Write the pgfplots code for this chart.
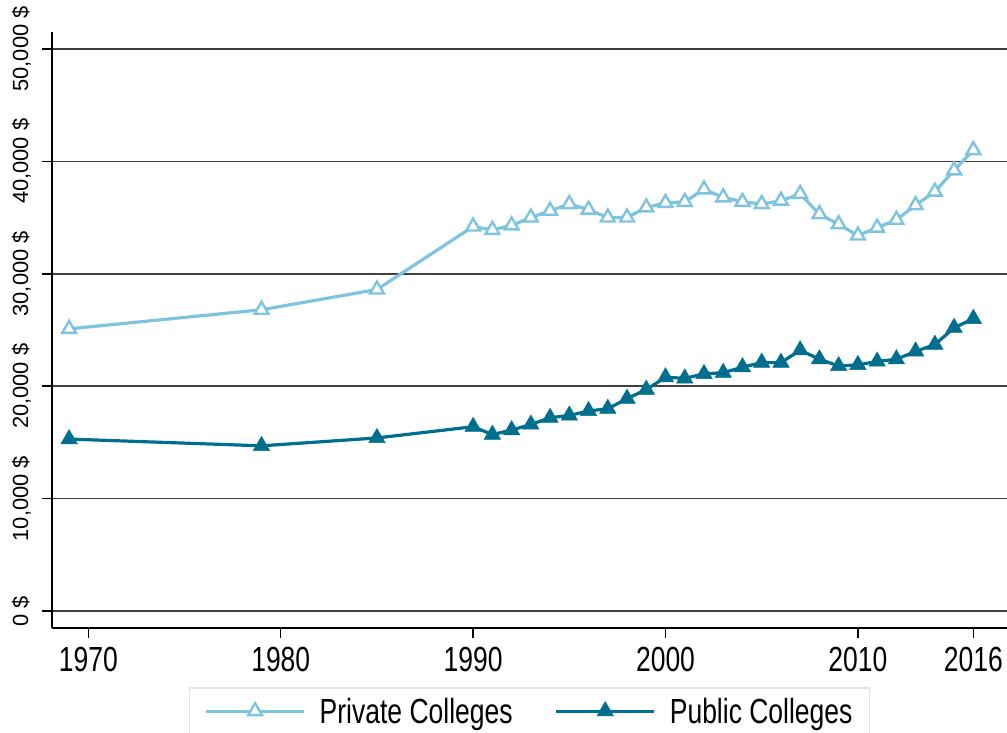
\documentclass[border=0pt]{standalone}
\usepackage{pgfplots}
\pgfplotsset{compat=1.18}
\usepackage{fontspec}
\setmainfont{Liberation Sans}
\newfontfamily\condfont[FakeStretch=0.76]{Liberation Sans}
\definecolor{privc}{RGB}{126,196,223}
\definecolor{pubc}{RGB}{0,111,143}
\definecolor{legbd}{RGB}{220,230,234}
\begin{document}
\begin{tikzpicture}
\begin{axis}[
  name=ax,
  scale only axis, width=955bp, height=596bp,
  xmin=1968.11, xmax=2017.75, ymin=-1500, ymax=51500,
  axis lines*=left,
  axis line style={line width=2bp, black},
  scaled y ticks=false, scaled x ticks=false,
  xtick={1970,1980,1990,2000,2010,2016},
  xticklabels={1970,1980,1990,2000,2010,2016},
  ytick={0,10000,20000,30000,40000,50000},
  yticklabels={{0 \$},{10,000 \$},{20,000 \$},{30,000 \$},{40,000 \$},{50,000 \$}},
  tick align=outside, major tick length=10bp,
  tick style={line width=1.5bp, black},
  ymajorgrids, major grid style={line width=1.5bp, black!75},
  xticklabel style={font=\condfont\fontsize{35}{40}\selectfont, anchor=north, inner sep=0pt, yshift=-9bp},
  yticklabel style={font=\fontsize{22}{26}\selectfont, rotate=90, anchor=base, yshift=14bp},
  legend columns=2,
  legend style={at={(0.5,-0.099)}, anchor=north, draw=legbd, line width=1.5bp,
    font=\condfont\fontsize{35}{40}\selectfont, inner xsep=15bp, inner ysep=8bp,
    nodes={inner sep=2bp}, column sep=12bp,
    /tikz/every even column/.append style={column sep=40bp}},
  legend image code/.code={\draw[mark repeat=2,mark phase=2,#1] plot coordinates {(0bp,0bp) (49bp,0bp) (98bp,0bp)};},
]
\addplot[color=privc, line width=3.2bp, mark=triangle*, mark size=8bp,
  mark options={fill=white, line width=2.4bp}] coordinates {
(1969,25100) (1979,26800) (1985,28600) (1990,34200) (1991,33900) (1992,34300)
(1993,35000) (1994,35600) (1995,36200) (1996,35700) (1997,35000) (1998,35000)
(1999,35900) (2000,36300) (2001,36400) (2002,37500) (2003,36800) (2004,36400)
(2005,36200) (2006,36500) (2007,37100) (2008,35300) (2009,34400) (2010,33400)
(2011,34100) (2012,34800) (2013,36100) (2014,37300) (2015,39200) (2016,41000)
};
\addlegendentry{Private Colleges}
\addplot[color=pubc, line width=3.2bp, mark=triangle*, mark size=9.5bp,
  mark options={line width=0.5bp}] coordinates {
(1969,15300) (1979,14700) (1985,15400) (1990,16400) (1991,15700) (1992,16100)
(1993,16600) (1994,17200) (1995,17400) (1996,17800) (1997,18000) (1998,18900)
(1999,19700) (2000,20800) (2001,20700) (2002,21100) (2003,21200) (2004,21700)
(2005,22100) (2006,22100) (2007,23200) (2008,22400) (2009,21800) (2010,21900)
(2011,22200) (2012,22400) (2013,23100) (2014,23700) (2015,25200) (2016,26000)
};
\addlegendentry{Public Colleges}
\end{axis}
\pgfresetboundingbox
\path ([xshift=-52bp,yshift=-105bp]ax.south west) rectangle ([yshift=32bp]ax.north east);
\end{tikzpicture}
\end{document}
